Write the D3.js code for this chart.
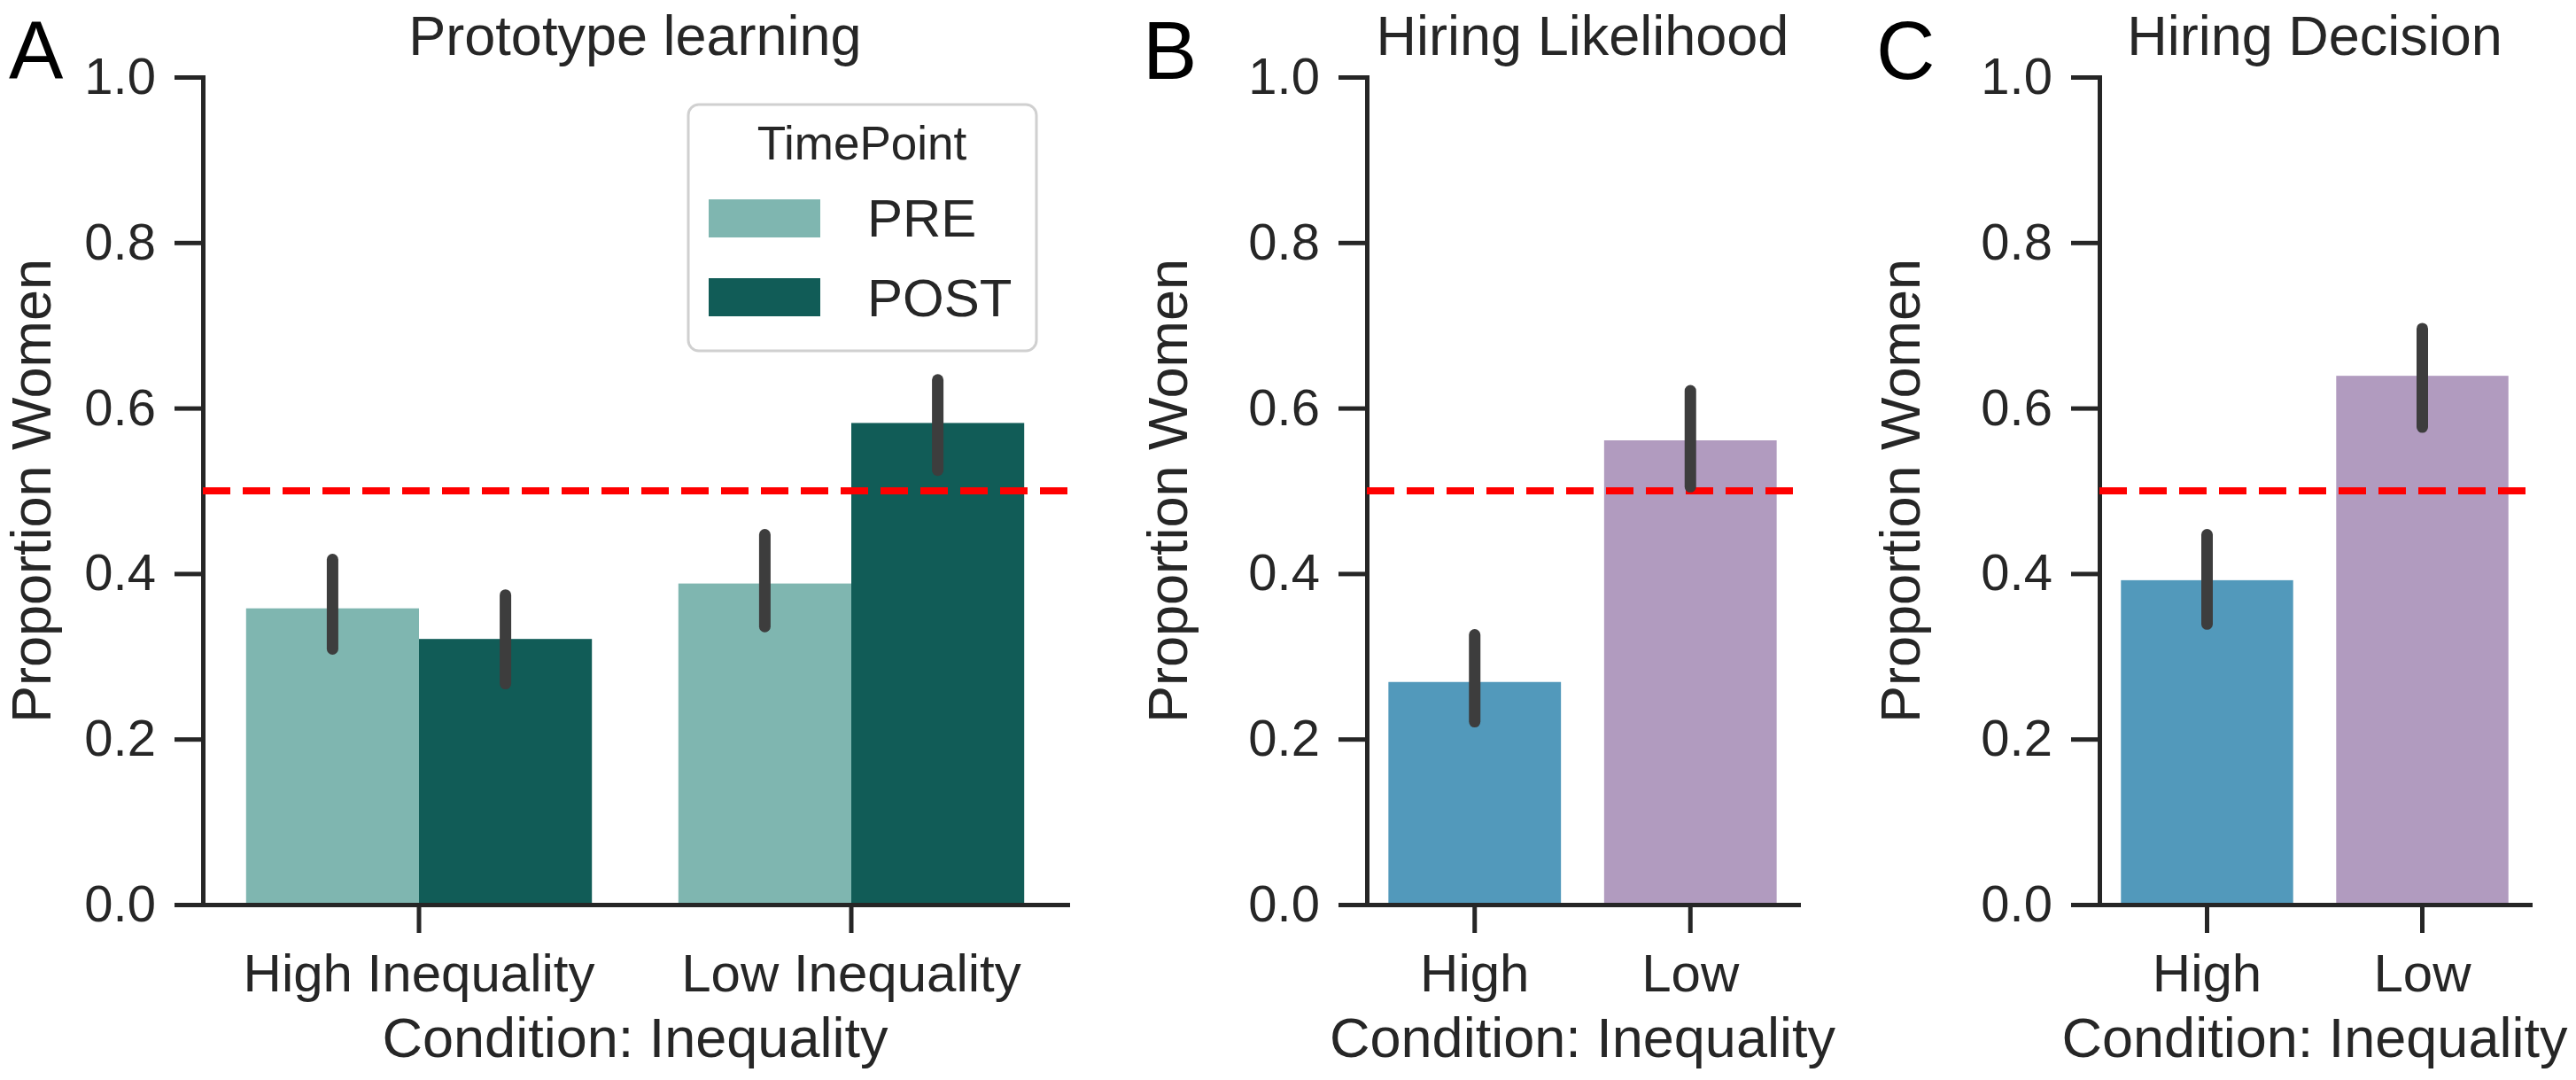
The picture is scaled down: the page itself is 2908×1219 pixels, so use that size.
<!DOCTYPE html>
<html><head><meta charset="utf-8">
<script src="https://cdn.jsdelivr.net/npm/d3@7"></script>
<style>
body{margin:0;background:#fff}
text{font-family:"Liberation Sans",Arial,Helvetica,sans-serif;fill:#262626}
</style>
</head><body>
<svg id="chart" width="2908" height="1219"></svg>
<script>
// ---------- DATA ----------
const yTickValues = [0.0, 0.2, 0.4, 0.6, 0.8, 1.0];

// Panel A: Prototype learning
const conditionsA = ["High Inequality", "Low Inequality"];
const timePoints = ["PRE", "POST"];
const preMean  = [0.358, 0.388];
const preLow   = [0.309, 0.336];
const preHigh  = [0.417, 0.447];
const postMean = [0.321, 0.582];
const postLow  = [0.267, 0.525];
const postHigh = [0.374, 0.634];

// Panel B: Hiring Likelihood
const conditionsB = ["High", "Low"];
const likelihoodMean = [0.269, 0.561];
const likelihoodLow  = [0.221, 0.505];
const likelihoodHigh = [0.326, 0.621];

// Panel C: Hiring Decision
const conditionsC = ["High", "Low"];
const decisionMean = [0.392, 0.639];
const decisionLow  = [0.339, 0.577];
const decisionHigh = [0.447, 0.696];

const referenceLine = 0.5;

// ---------- STYLE ----------
const timeColors = {PRE: "#7fb6b0", POST: "#115c57"};
const condColors = ["#5299bb", "#b19bbf"];
const ink = "#262626";
const errColor = "#3d3d3d";

const svg = d3.select("#chart");
svg.append("rect").attr("width", 2908).attr("height", 1219).attr("fill", "#fff");

const plotTop = 87, plotBottom = 1021;
const y = d3.scaleLinear().domain([0, 1]).range([plotBottom, plotTop]);

function drawAxes(g, x, labelX, title) {
  const [x0, x1] = x.range();
  const ya = g.append("g").attr("transform", `translate(${x0},0)`)
    .call(d3.axisLeft(y).tickValues(yTickValues).tickFormat(d3.format(".1f"))
      .tickSize(32).tickPadding(21).tickSizeOuter(0));
  const xa = g.append("g").attr("transform", `translate(0,${plotBottom})`)
    .call(d3.axisBottom(x).tickSize(32).tickPadding(23).tickSizeOuter(0));
  [ya, xa].forEach(a => {
    a.select(".domain").attr("stroke", ink).attr("stroke-width", 5).attr("stroke-linecap", "square");
    a.selectAll(".tick line").attr("stroke", ink).attr("stroke-width", 5);
    a.selectAll(".tick text").attr("font-size", 58).attr("fill", ink)
      .style("font-family", '"Liberation Sans",Arial,sans-serif');
  });
  xa.selectAll(".tick text").attr("font-size", 60);
  g.append("text").attr("transform", `translate(${labelX},${(plotTop + plotBottom) / 2}) rotate(-90)`)
    .attr("text-anchor", "middle").attr("font-size", 63).text("Proportion Women");
  g.append("text").attr("x", (x0 + x1) / 2).attr("y", 1193)
    .attr("text-anchor", "middle").attr("font-size", 63).text("Condition: Inequality");
  g.append("text").attr("x", (x0 + x1) / 2).attr("y", 62)
    .attr("text-anchor", "middle").attr("font-size", 63).text(title);
}

function drawRef(g, x) {
  const [x0, x1] = x.range();
  g.append("line").attr("x1", x0).attr("x2", x1)
    .attr("y1", y(referenceLine)).attr("y2", y(referenceLine))
    .attr("stroke", "#ff0000").attr("stroke-width", 8).attr("stroke-dasharray", "31,14");
}

function errBar(g, cx, lo, hi) {
  g.append("line").attr("x1", cx).attr("x2", cx).attr("y1", y(lo)).attr("y2", y(hi))
    .attr("stroke", errColor).attr("stroke-width", 13).attr("stroke-linecap", "round");
}

function letter(t, x, yy) {
  svg.append("text").attr("x", x).attr("y", yy).attr("font-size", 92)
    .style("fill", "#000").text(t);
}

// ---------- PANEL A ----------
{
  const g = svg.append("g");
  const x = d3.scaleBand().domain(conditionsA).range([229, 1205]).paddingInner(0).paddingOuter(0);
  const inner = d3.scaleBand().domain(timePoints).range([0, x.bandwidth() * 0.8]);
  const off = x.bandwidth() * 0.1;
  const rows = [];
  conditionsA.forEach((c, i) => {
    rows.push({c, t: "PRE", m: preMean[i], lo: preLow[i], hi: preHigh[i]});
    rows.push({c, t: "POST", m: postMean[i], lo: postLow[i], hi: postHigh[i]});
  });
  g.selectAll("rect.bar").data(rows).join("rect").attr("class", "bar")
    .attr("x", d => x(d.c) + off + inner(d.t))
    .attr("width", inner.bandwidth())
    .attr("y", d => y(d.m)).attr("height", d => y(0) - y(d.m))
    .attr("fill", d => timeColors[d.t]);
  drawAxes(g, x, 57, "Prototype learning");
  drawRef(g, x);
  rows.forEach(d => errBar(g, x(d.c) + off + inner(d.t) + inner.bandwidth() / 2, d.lo, d.hi));

  const lg = g.append("g");
  lg.append("rect").attr("x", 777).attr("y", 118).attr("width", 393).attr("height", 278)
    .attr("rx", 12).attr("fill", "#fff").attr("fill-opacity", 0.8)
    .attr("stroke", "#d0d0d0").attr("stroke-width", 3);
  lg.append("text").attr("x", 973).attr("y", 180).attr("text-anchor", "middle")
    .attr("font-size", 53).text("TimePoint");
  timePoints.forEach((t, i) => {
    lg.append("rect").attr("x", 800).attr("y", 225 + i * 89).attr("width", 126).attr("height", 43)
      .attr("fill", timeColors[t]);
    lg.append("text").attr("x", 979).attr("y", 267 + i * 90).attr("font-size", 60).text(t);
  });
}

// ---------- PANEL B & C ----------
function simplePanel(cats, means, lows, highs, range, labelX, title) {
  const g = svg.append("g");
  const x = d3.scaleBand().domain(cats).range(range).paddingInner(0).paddingOuter(0);
  const w = x.bandwidth() * 0.8, off = x.bandwidth() * 0.1;
  g.selectAll("rect.bar").data(cats).join("rect").attr("class", "bar")
    .attr("x", c => x(c) + off).attr("width", w)
    .attr("y", (c, i) => y(means[i])).attr("height", (c, i) => y(0) - y(means[i]))
    .attr("fill", (c, i) => condColors[i]);
  drawAxes(g, x, labelX, title);
  drawRef(g, x);
  cats.forEach((c, i) => errBar(g, x(c) + x.bandwidth() / 2, lows[i], highs[i]));
}
simplePanel(conditionsB, likelihoodMean, likelihoodLow, likelihoodHigh, [1543, 2030], 1340, "Hiring Likelihood");
simplePanel(conditionsC, decisionMean, decisionLow, decisionHigh, [2370, 2856], 2167, "Hiring Decision");

letter("A", 10, 89);
letter("B", 1290, 89);
letter("C", 2118, 89);
</script>
</body></html>
